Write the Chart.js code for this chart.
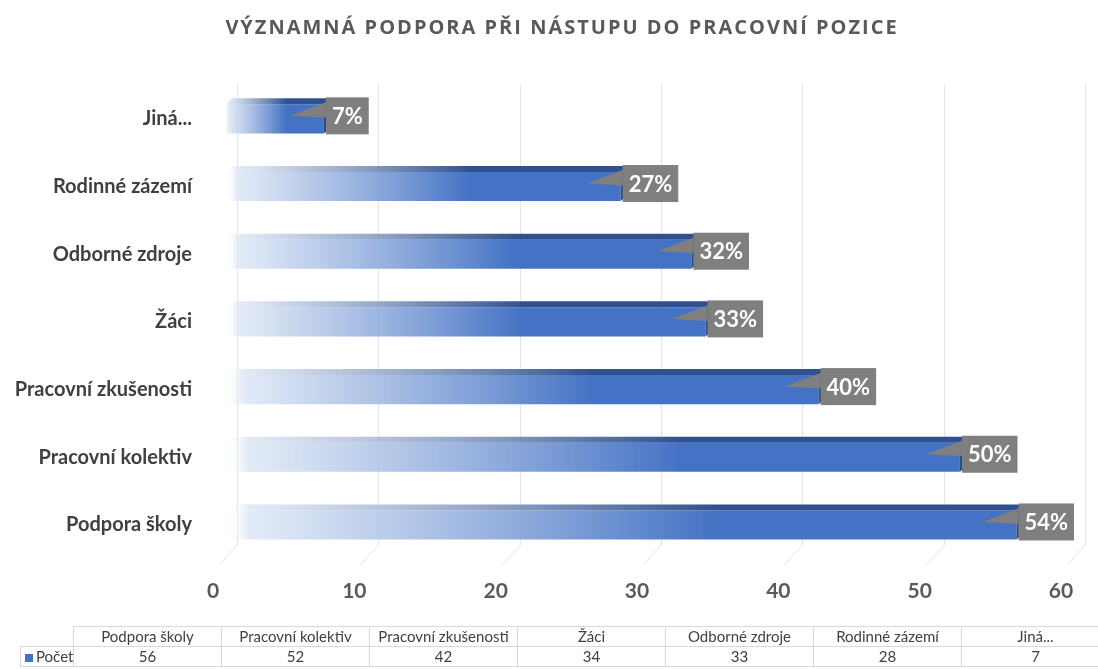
<!DOCTYPE html>
<html>
<head>
<meta charset="utf-8">
<script src="https://cdn.jsdelivr.net/npm/chart.js@4"></script>
<style>
  body { margin: 0; background: #fff; }
  #wrap { position: relative; width: 1098px; height: 669px; overflow: hidden; }
  #tbl { position: absolute; left: 20px; top: 626px; border-collapse: collapse; font-family: Lato, sans-serif; font-size: 15px; color: #404040; table-layout: fixed; }
  #tbl td { border: 1px solid #d9d9d9; height: 19px; padding: 0; text-align: center; white-space: nowrap; overflow: hidden; line-height: 19px; }
  #tbl td.blank { border-left: none; border-top: none; }
  #tbl td.key { text-align: left; padding-left: 4px; }
  .sq { display: inline-block; width: 8px; height: 8px; background: #4472c4; margin-right: 3px; }
</style>
</head>
<body>
<div id="wrap">
  <canvas id="myChart"></canvas>
  <table id="tbl"></table>
</div>
<script>
// data, in the table's order (first = bottom bar)
const categories = ['Podpora školy', 'Pracovní kolektiv', 'Pracovní zkušenosti', 'Žáci', 'Odborné zdroje', 'Rodinné zázemí', 'Jiná...'];
const counts = [56, 52, 42, 34, 33, 28, 7];
const percentLabels = ['54%', '50%', '40%', '33%', '32%', '27%', '7%'];
const seriesName = 'Počet';
const xTicks = [0, 10, 20, 30, 40, 50, 60];
const titleText = 'VÝZNAMNÁ PODPORA PŘI NÁSTUPU DO PRACOVNÍ POZICE';

const barBlue = '#4472c4';
const topBlue = '#2f528f';
const labelGray = '#7f7f7f';

function barGradient(ctx, x0, x1, color) {
    const g = ctx.createLinearGradient(x0, 0, x1, 0);
    g.addColorStop(0, 'rgba(255,255,255,0)');
    g.addColorStop(0.03, 'rgba(220,230,245,0.8)');
    g.addColorStop(0.62, color);
    g.addColorStop(1, color);
    return g;
}

// title with letter spacing (Chart.js title has no tracking option)
const spacedTitle = {
    id: 'spacedTitle',
    afterDraw(chart) {
        const {ctx} = chart;
        ctx.save();
        ctx.font = 'bold 20px "Open Sans", sans-serif';
        ctx.letterSpacing = '2px';
        ctx.fillStyle = '#595959';
        ctx.textAlign = 'center';
        ctx.textBaseline = 'middle';
        ctx.fillText(titleText, 562, 28);
        ctx.restore();
    }
};

// 3D-ish grid: back wall lines + diagonal floor lines
const gridPlugin = {
    id: 'grid3d',
    beforeDatasetsDraw(chart) {
        const {ctx, chartArea} = chart;
        const x = chart.scales.x;
        ctx.save();
        ctx.strokeStyle = '#e4e4e4';
        ctx.lineWidth = 1;
        xTicks.forEach(v => {
            const px = Math.round(x.getPixelForValue(v)) + 0.5;
            ctx.beginPath();
            ctx.moveTo(px + 12, chartArea.top);
            ctx.lineTo(px + 12, chartArea.bottom - 14);
            ctx.lineTo(px - 6, chartArea.bottom + 6);
            ctx.stroke();
        });
        ctx.restore();
    }
};

// top face, side face and callout labels
const barDecor = {
    id: 'barDecor',
    afterDatasetsDraw(chart) {
        const {ctx} = chart;
        const x = chart.scales.x;
        const meta = chart.getDatasetMeta(0);
        const x0 = x.getPixelForValue(0);
        const d = 7;
        ctx.save();
        meta.data.forEach((bar, i) => {
            const top = bar.y - bar.height / 2;
            const bottom = bar.y + bar.height / 2;
            const x1 = bar.x;
            // top face
            ctx.fillStyle = barGradient(ctx, x0, x1, topBlue);
            ctx.beginPath();
            ctx.moveTo(x0, top);
            ctx.lineTo(x0 + d, top - d + 1);
            ctx.lineTo(x1 + d, top - d + 1);
            ctx.lineTo(x1, top);
            ctx.closePath();
            ctx.fill();
            // side face
            ctx.fillStyle = '#2e4c82';
            ctx.beginPath();
            ctx.moveTo(x1, top);
            ctx.lineTo(x1 + d, top - d + 1);
            ctx.lineTo(x1 + d, bottom - d + 1);
            ctx.lineTo(x1, bottom);
            ctx.closePath();
            ctx.fill();

            // label box
            const text = percentLabels[i];
            ctx.font = 'bold 22px Lato, sans-serif';
            const w = ctx.measureText(text).width + 12;
            const h = 37;
            const bx = x1 + 2;
            const by = bar.y - 3 - h / 2;
            ctx.fillStyle = labelGray;
            ctx.beginPath();
            ctx.moveTo(bx, by + 5);
            ctx.lineTo(bx - 36, bar.y - 3);
            ctx.lineTo(bx, bar.y - 1);
            ctx.closePath();
            ctx.fill();
            ctx.fillRect(bx, by, w, h);
            ctx.fillStyle = '#ffffff';
            ctx.textAlign = 'left';
            ctx.textBaseline = 'middle';
            ctx.fillText(text, bx + 6, by + h / 2 + 1);
        });
        ctx.restore();
    }
};

const config = {
    type: 'bar',
    data: {
        labels: categories,
        datasets: [{
            label: seriesName,
            data: counts,
            backgroundColor: (c) => {
                const chart = c.chart;
                if (!chart.chartArea) return barBlue;
                const x = chart.scales.x;
                return barGradient(chart.ctx, x.getPixelForValue(0), x.getPixelForValue(counts[c.dataIndex]), barBlue);
            },
            borderWidth: 0,
            barPercentage: 0.43,
            categoryPercentage: 1
        }]
    },
    options: {
        indexAxis: 'y',
        responsive: true,
        maintainAspectRatio: false,
        animation: false,
        layout: {
            padding: {left: 0, right: 25, top: 85, bottom: 53}
        },
        scales: {
            x: {
                min: 0,
                max: 60,
                grid: {display: false},
                border: {display: false},
                afterFit: (scale) => { scale.paddingLeft = 0; scale.paddingRight = 0; },
                ticks: {
                    stepSize: 10,
                    padding: 12,
                    labelOffset: -12,
                    color: '#595959',
                    font: {family: 'Lato, sans-serif', size: 21, weight: 'bold'}
                }
            },
            y: {
                reverse: true,
                grid: {display: false},
                border: {display: false},
                afterFit: (scale) => { scale.width = 225; },
                ticks: {
                    padding: 25,
                    color: '#404040',
                    font: {family: 'Lato, sans-serif', size: 20, weight: 'bold'}
                }
            }
        },
        plugins: {
            legend: {display: false},
            tooltip: {enabled: false},
            title: {display: false}
        }
    },
    plugins: [gridPlugin, barDecor, spacedTitle]
};

const chart = new Chart(document.getElementById('myChart'), config);

// data table under the chart
const tbl = document.getElementById('tbl');
const colWidths = [53].concat(categories.map(() => 148));
const colgroup = document.createElement('colgroup');
colWidths.forEach(w => {
    const col = document.createElement('col');
    col.style.width = w + 'px';
    colgroup.appendChild(col);
});
tbl.appendChild(colgroup);
tbl.style.width = colWidths.reduce((a, b) => a + b, 0) + 'px';

const headRow = tbl.insertRow();
const blank = headRow.insertCell();
blank.className = 'blank';
categories.forEach(c => { headRow.insertCell().textContent = c; });

const valRow = tbl.insertRow();
const key = valRow.insertCell();
key.className = 'key';
key.innerHTML = '<span class="sq"></span>' + seriesName;
counts.forEach(v => { valRow.insertCell().textContent = v; });
</script>
</body>
</html>
